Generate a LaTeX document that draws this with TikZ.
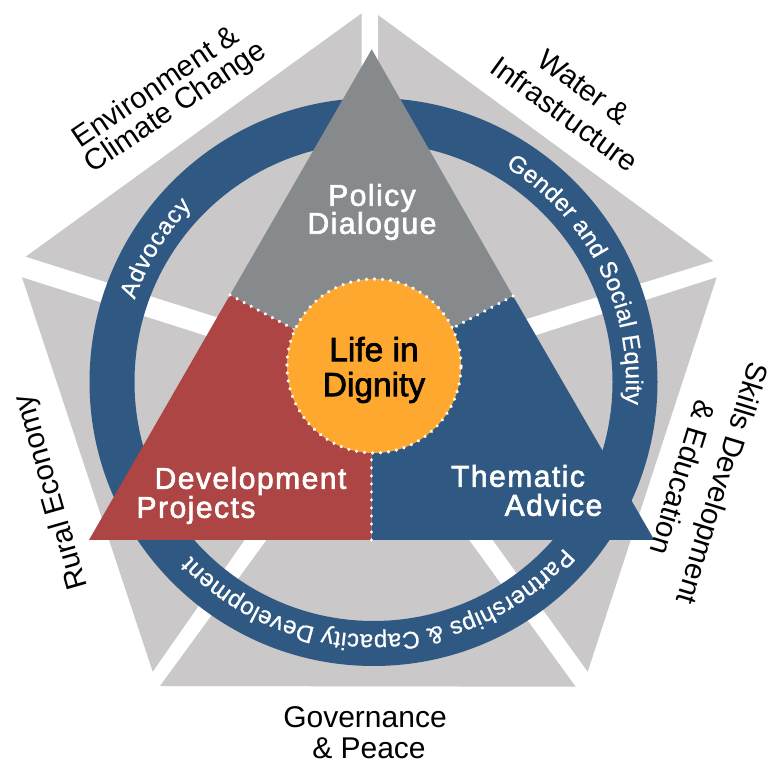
\documentclass[tikz,border=0pt]{standalone}
\usepackage{fontspec}
\setmainfont{Liberation Sans}
\newfontfamily\heavyf[FakeBold=2.2,LetterSpace=5]{Liberation Sans}
\newfontfamily\lifef[FakeBold=2.2]{Liberation Sans}
\newfontfamily\ringf[FakeBold=0.8]{Liberation Sans}
\usetikzlibrary{decorations.text}
\definecolor{paleg}{HTML}{CAC8C9}
\definecolor{ringb}{HTML}{2F5982}
\definecolor{slateg}{HTML}{868A8C}
\definecolor{brick}{HTML}{AD4544}
\definecolor{amber}{HTML}{FFA82F}
\tikzset{
  petal/.style={fill=paleg,draw=none},
  dotline/.style={draw=white,line width=3.6pt,line cap=round,dash pattern=on 0.01pt off 8pt},
  outer/.style={text=black,font=\fontsize{29.5}{30}\selectfont,inner sep=0pt,anchor=center},
  inwhite/.style={text=white,font=\fontsize{30}{30}\heavyf,inner sep=0pt,anchor=center},
  ringtext/.style={decoration={text along path,text align={fit to path},text={#1}},decorate},
}
\begin{document}
\begin{tikzpicture}[x=1pt,y=1pt]
\useasboundingbox (0,0) rectangle (769,763);
\fill[white] (0,0) rectangle (769,763);
% pale pentagon petals
\fill[petal] (361.7,749.7) -- (25.7,506.3) -- (361.7,400) -- cycle;
\fill[petal] (378,748) -- (713.3,502) -- (378,398) -- cycle;
\fill[petal] (716.7,485.7) -- (587.7,91.3) -- (381,378) -- cycle;
\fill[petal] (160,77) -- (575.7,76.3) -- (368,362) -- cycle;
\fill[petal] (22,485.7) -- (152.7,91.3) -- (354,380) -- cycle;
% ring
\coordinate (c) at (373.5,381);
\fill[ringb,even odd rule] (c) circle[radius=284] (c) circle[radius=239];
% ring labels
\def\rb{252.5}
\path[ringtext={|\fontsize{24}{24}\ringf\color{white}|Advocacy}] ([shift={(161:\rb)}]c) arc (161:136:\rb);
\path[ringtext={|\fontsize{24}{24}\ringf\color{white}|Gender and Social Equity}] ([shift={(58.5:\rb)}]c) arc (58.5:-5:\rb);
\path[ringtext={|\fontsize{24}{24}\ringf\color{white}|Partnerships {\&} Capacity Development}] ([shift={(-41:\rb)}]c) arc (-41:-136.4:\rb);
% triangle segments
\coordinate (apex) at (371.7,713.7);
\coordinate (tl) at (89,223);
\coordinate (tr) at (654.3,223);
\coordinate (tm) at (371.5,223);
\coordinate (sl) at (230,468);
\coordinate (sr) at (513,467);
\coordinate (kl) at (291.7,435);
\coordinate (kr) at (453,435);
\coordinate (km) at (371.5,310);
\fill[slateg] (apex) -- (sl) -- (kl) -- (kr) -- (sr) -- cycle;
\fill[brick] (tl) -- (tm) -- (km) -- (kl) -- (sl) -- cycle;
\fill[ringb] (tr) -- (tm) -- (km) -- (kr) -- (sr) -- cycle;
\draw[dotline] (sl) -- (kl);
\draw[dotline] (sr) -- (kr);
\draw[dotline] (tm) -- (km);
% centre
\node[circle,fill=amber,minimum size=174pt,inner sep=0pt] (core) at (374,397) {};
\draw[dotline] (core.center) circle[radius=87];
\node[text=black,font=\fontsize{33.5}{35}\lifef,align=center,inner sep=0pt] (life) at (374,393) {Life in\\Dignity};
% triangle labels
\node[inwhite] (pol) at (372,565) {Policy};
\node[inwhite] (dia) at (372,537) {Dialogue};
\node[inwhite] (dev) at (250.5,282) {Development};
\node[inwhite] (pro) at (196,253) {Projects};
\node[inwhite] (the) at (518,287) {Thematic};
\node[inwhite] (adv) at (553.5,258) {Advice};
% outer labels
\node[outer,rotate=34] (env) at (155,677) {Environment \&};
\node[outer,rotate=34] (cli) at (176,655) {Climate Change};
\node[outer,rotate=-36] (wat) at (584,676) {Water \&};
\node[outer,rotate=-36] (inf) at (565,649) {Infrastructure};
\node[outer,rotate=-107] (ski) at (720,280) {Skills Development};
\node[outer,rotate=-107] (edu) at (683,285) {\& Education};
\node[outer,rotate=106] (rur) at (52,271) {Rural Economy};
\node[outer,font=\fontsize{30}{30}\selectfont] (gov) at (365,46) {Governance};
\node[outer,font=\fontsize{30}{30}\selectfont] (pea) at (369,15) {\& Peace};
\end{tikzpicture}
\end{document}
